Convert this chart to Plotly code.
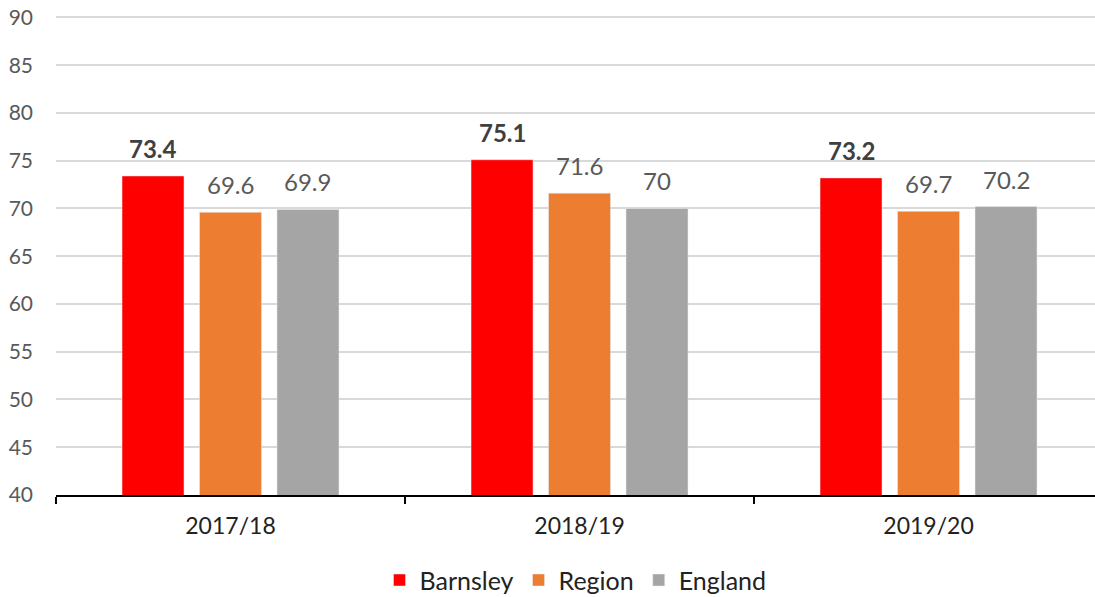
import plotly.graph_objects as go

categories = ["2017/18", "2018/19", "2019/20"]
barnsley = [73.4, 75.1, 73.2]
region = [69.6, 71.6, 69.7]
england = [69.9, 70, 70.2]
y_ticks = list(range(40, 91, 5))

FONT = "Century Gothic, Lato, Open Sans, sans-serif"

series = [
    ("Barnsley", barnsley, "#FF0000", True),
    ("Region", region, "#ED7D31", False),
    ("England", england, "#A5A5A5", False),
]

fig = go.Figure()
for name, vals, color, bold in series:
    fig.add_bar(name=name, x=categories, y=vals, marker_color=color,
                offsetgroup=name, cliponaxis=False)

fig.update_layout(
    width=1095, height=597,
    margin=dict(l=56, r=0, t=16, b=102, autoexpand=False),
    paper_bgcolor="white", plot_bgcolor="white",
    barmode="group", bargap=0.334, bargroupgap=0.2,
    font=dict(family=FONT, size=20, color="#595959"),
    showlegend=True,
    legend=dict(orientation="h", x=0.5, xanchor="center", y=-0.13, yanchor="top",
                font=dict(size=25, color="#222222"), itemwidth=30, traceorder="normal"),
)

# data labels placed over each bar via the category axis and the values
slot = (1 - 0.334) / 3
for i, (name, vals, color, bold) in enumerate(series):
    off = (i - 1) * slot
    for j, v in enumerate(vals):
        fig.add_annotation(
            x=j + off, y=v, xref="x", yref="y",
            text=f"<b>{v:g}</b>" if bold else f"{v:g}",
            showarrow=False, yanchor="bottom", yshift=11,
            font=dict(size=24, color="#404040" if bold else "#595959", family=FONT),
        )

fig.update_xaxes(
    type="category", range=[-0.5, 2.477], automargin=False,
    showline=True, linecolor="#000000", linewidth=1.5,
    ticks="outside", tickson="boundaries", ticklen=7, tickcolor="#000000", tickwidth=1.5,
    ticklabelstandoff=10,
    tickfont=dict(size=23, color="#222222"), showgrid=False,
)
fig.update_yaxes(
    range=[40, 90.15], tickvals=y_ticks, showgrid=True, gridcolor="#D9D9D9", gridwidth=1.5,
    zeroline=False, showline=False, ticks="", ticklabelstandoff=22, automargin=False,
    ticklabeloverflow="allow",
    tickfont=dict(size=21, color="#595959"),
)

fig.write_html("out.html", config={"displayModeBar": False},
               post_script="document.body.style.margin='0';document.body.style.overflow='hidden';")
